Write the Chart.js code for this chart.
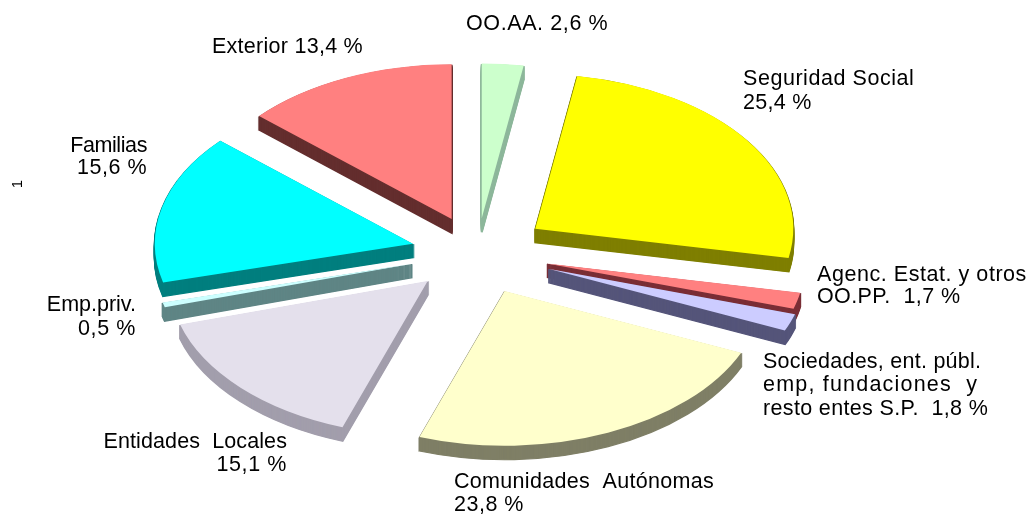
<!DOCTYPE html>
<html><head><meta charset="utf-8">
<script src="https://cdn.jsdelivr.net/npm/chart.js@4/dist/chart.umd.min.js"></script>
<style>html,body{margin:0;padding:0;background:#fff}#w{position:relative;width:1032px;height:514px}</style>
</head><body><div id="w"><canvas id="c" width="1032" height="514"></canvas></div>
<script>
const categories = ["OO.AA.","Seguridad Social","Agenc. Estat. y otros OO.PP.","Sociedades, ent. públ. emp, fundaciones y resto entes S.P.","Comunidades Autónomas","Entidades Locales","Emp.priv.","Familias","Exterior"];
const values = [2.6,25.4,1.7,1.8,23.8,15.1,0.5,15.6,13.4];
const topColors = ["#CCFFCC","#FFFF00","#FF8080","#CCCCFF","#FFFFCC","#E4E0EC","#CCFFFF","#00FFFF","#FF8080"];
const sideColors = ["#8DB79B","#7F7F00","#7A2E36","#55557A","#7F7F66","#A29EAC","#5F8585","#007F7F","#642E2E"];
const explode = [58,71,72,76,69,68,67,66,62];

const labelFont = '21.5px "Liberation Sans", Arial, sans-serif';
const labelLines = [
 {t:"OO.AA. 2,6 %",x:466,y:30,a:"left",s:0.6},
 {t:"Seguridad Social",x:743,y:85,a:"left",s:0.55},
 {t:"25,4 %",x:743,y:109,a:"left",s:0.3},
 {t:"Agenc. Estat. y otros",x:817,y:281,a:"left",s:0.55},
 {t:"OO.PP.  1,7 %",x:817,y:303,a:"left",s:0.4},
 {t:"Sociedades, ent. públ.",x:763,y:368,a:"left",s:0.25},
 {t:"emp, fundaciones  y",x:763,y:391,a:"left",s:1.2},
 {t:"resto entes S.P.  1,8 %",x:763,y:415,a:"left",s:0.35},
 {t:"Comunidades  Autónomas",x:454,y:488,a:"left",s:0.3},
 {t:"23,8 %",x:454,y:511,a:"left",s:0.5},
 {t:"Entidades  Locales",x:287,y:448,a:"right",s:0.1},
 {t:"15,1 %",x:287,y:471,a:"right",s:0.6},
 {t:"Emp.priv.",x:136,y:311,a:"right",s:0},
 {t:"0,5 %",x:136,y:335,a:"right",s:0.6},
 {t:"Familias",x:147,y:152,a:"right",s:-0.4},
 {t:"15,6 %",x:147,y:174,a:"right",s:0.5},
 {t:"Exterior 13,4 %",x:363,y:53,a:"right",s:0.27}
];
const squash = 0.6, depth = 14;

const solid = {
  id:'solid',
  afterDatasetsUpdate(chart){
    chart.getDatasetMeta(0).data.forEach((arc,i)=>{
      const mid = (arc.startAngle+arc.endAngle)/2;
      arc.x += Math.cos(mid)*explode[i];
      arc.y += Math.sin(mid)*explode[i];
    });
  },
  beforeDatasetDraw(chart){
    const ctx = chart.ctx, meta = chart.getDatasetMeta(0);
    const cy = chart.chartArea.top + chart.chartArea.height/2;
    ctx.save();
    ctx.translate(0,cy); ctx.scale(1,squash); ctx.translate(0,-cy);
    for(let k=depth;k>=1;k--){
      ctx.save();
      ctx.translate(0,k/squash);
      meta.data.forEach((arc,i)=>{
        const o = arc.options;
        arc.options = Object.assign({},o,{backgroundColor:sideColors[i],borderColor:sideColors[i],borderWidth:2,borderAlign:'center',borderJoinStyle:'miter'});
        arc.draw(ctx);
        arc.options = o;
      });
      ctx.restore();
    }
  },
  afterDatasetDraw(chart){ chart.ctx.restore(); },
  afterDraw(chart){
    const ctx = chart.ctx;
    ctx.save();
    ctx.fillStyle='#000'; ctx.font=labelFont; ctx.textBaseline='alphabetic';
    labelLines.forEach(l=>{ctx.letterSpacing=l.s+'px'; ctx.textAlign=l.a; ctx.fillText(l.t,l.x,l.y);});
    ctx.letterSpacing='0px';
    ctx.translate(22,184); ctx.rotate(-Math.PI/2);
    ctx.font='15px "Liberation Sans", Arial, sans-serif'; ctx.textAlign='center';
    ctx.fillText('1',0,0);
    ctx.restore();
  }
};

new Chart(document.getElementById('c'),{
  type:'pie',
  data:{labels:categories,datasets:[{
    data:values,
    backgroundColor:topColors,
    borderWidth:0,
    clip:false
  }]},
  options:{
    responsive:false,animation:false,
    radius:258,
    layout:{padding:{left:0,right:78,top:0,bottom:8}},
    plugins:{legend:{display:false},tooltip:{enabled:false},title:{display:false}}
  },
  plugins:[solid]
});
</script></body></html>
